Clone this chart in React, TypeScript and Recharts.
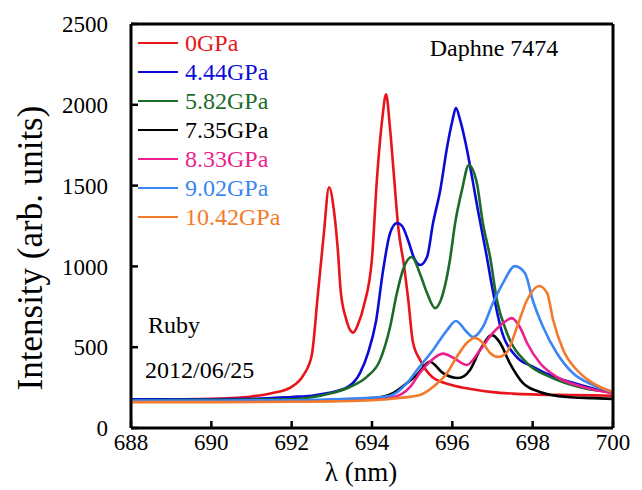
import React from 'react';
import { LineChart, Line, XAxis, YAxis } from 'recharts';

// wavelength (nm) / intensity pairs
const gpa0X = [688, 689, 690, 690.5, 691, 691.5, 692, 692.3, 692.5, 692.65, 692.8, 692.93, 693.05, 693.15, 693.22, 693.35, 693.53, 693.65, 693.8, 694.0, 694.12, 694.25, 694.35, 694.45, 694.55, 694.65, 694.8, 694.9, 695.02, 695.2, 695.5, 696, 696.5, 697, 697.5, 698, 699, 700];
const gpa0Y = [175, 177, 180, 185, 195, 215, 255, 330, 450, 820, 1200, 1490, 1350, 1100, 850, 680, 590, 640, 760, 1050, 1530, 1900, 2065, 1850, 1550, 1250, 1000, 800, 530, 420, 316, 265, 240, 222, 213, 208, 204, 200];

const gpa444X = [688, 690, 691, 692, 692.5, 692.9, 693.4, 693.7, 693.9, 694.1, 694.27, 694.45, 694.62, 694.75, 694.9, 695.05, 695.2, 695.37, 695.52, 695.7, 695.87, 696.0, 696.09, 696.2, 696.35, 696.5, 696.65, 696.85, 697.0, 697.2, 697.6, 698.0, 698.5, 699, 699.5, 700];
const gpa444Y = [178, 178, 180, 192, 200, 216, 254, 340, 464, 660, 965, 1206, 1268, 1250, 1160, 1050, 1009, 1058, 1268, 1473, 1739, 1900, 1980, 1900, 1740, 1540, 1330, 1070, 860, 625, 440, 380, 320, 280, 245, 216];

const gpa582X = [688, 690, 692, 692.5, 693.0, 693.45, 693.87, 694.2, 694.45, 694.62, 694.77, 694.99, 695.19, 695.37, 695.57, 695.77, 695.94, 696.07, 696.24, 696.41, 696.61, 696.76, 696.94, 697.11, 697.36, 697.86, 698.43, 699.25, 700];
const gpa582Y = [172, 174, 178, 190, 216, 254, 316, 420, 625, 835, 978, 1058, 958, 835, 742, 835, 1040, 1268, 1473, 1627, 1516, 1268, 1058, 792, 588, 402, 316, 248, 223];

const gpa735X = [688, 690, 692, 693, 694, 694.3, 694.52, 694.87, 695.12, 695.44, 695.77, 696.15, 696.44, 696.69, 696.99, 697.19, 697.43, 697.76, 698.18, 698.85, 699.5, 700];
const gpa735Y = [168, 168, 170, 172, 180, 195, 216, 278, 330, 410, 340, 309, 359, 483, 575, 526, 402, 278, 223, 192, 185, 180];

const gpa833X = [688, 690, 692, 693, 694, 694.52, 694.95, 695.19, 695.44, 695.77, 696.05, 696.36, 696.69, 697.01, 697.27, 697.48, 697.68, 697.86, 698.18, 698.6, 699.25, 700];
const gpa833Y = [165, 165, 167, 170, 178, 190, 254, 340, 410, 460, 430, 390, 483, 588, 650, 680, 625, 526, 402, 316, 254, 216];

const gpa902X = [688, 690, 692, 693, 694, 694.45, 694.87, 695.12, 695.52, 695.87, 696.09, 696.36, 696.51, 696.76, 697.01, 697.26, 697.56, 697.81, 698.0, 698.26, 698.6, 699.0, 699.5, 700];
const gpa902Y = [170, 170, 172, 178, 188, 200, 278, 359, 483, 606, 662, 594, 563, 625, 773, 897, 1002, 958, 792, 625, 464, 340, 266, 223];

const gpa1042X = [688, 690, 692, 693, 694, 694.7, 695.19, 695.52, 695.87, 696.11, 696.36, 696.56, 696.76, 696.94, 697.14, 697.36, 697.61, 697.86, 698.16, 698.36, 698.51, 698.76, 699.1, 699.5, 700];
const gpa1042Y = [160, 160, 162, 165, 172, 186, 204, 254, 340, 440, 526, 557, 526, 464, 440, 470, 625, 792, 879, 835, 668, 483, 359, 278, 223];

const xTicks = [688, 690, 692, 694, 696, 698, 700];
const yTicks = [0, 500, 1000, 1500, 2000, 2500];
const topTicks = [690, 692, 694, 696, 698];
const rightTicks = [500, 1000, 1500, 2000];

const zip = (xs: number[], ys: number[]) => xs.map((x, i) => ({ x, y: ys[i] }));

const series = [
  { name: '0GPa', color: '#e8141c', data: zip(gpa0X, gpa0Y) },
  { name: '4.44GPa', color: '#0b0bd8', data: zip(gpa444X, gpa444Y) },
  { name: '5.82GPa', color: '#1c6b2a', data: zip(gpa582X, gpa582Y) },
  { name: '7.35GPa', color: '#000000', data: zip(gpa735X, gpa735Y) },
  { name: '8.33GPa', color: '#ec1f8c', data: zip(gpa833X, gpa833Y) },
  { name: '9.02GPa', color: '#3a86f2', data: zip(gpa902X, gpa902Y) },
  { name: '10.42GPa', color: '#f37a2a', data: zip(gpa1042X, gpa1042Y) },
];

const FONT = 'Liberation Serif, Times New Roman, Times, serif';
const tickStyle = { fontFamily: FONT, fontSize: 23, fill: '#000' };
const axisLine = { stroke: '#000', strokeWidth: 3 };
const tickLine = { stroke: '#000', strokeWidth: 2.5 };

export default function App() {
  return (
    <div style={{ position: 'relative', width: 634, height: 482 }}>
      <LineChart width={626} height={474} margin={{ top: 15, right: 20, left: 63, bottom: 24 }}>
        <XAxis
          dataKey="x"
          type="number"
          domain={[688, 700]}
          ticks={xTicks}
          tick={tickStyle}
          tickSize={-7}
          tickMargin={13}
          axisLine={axisLine}
          tickLine={tickLine}
          height={30}
        />
        <XAxis
          xAxisId="top"
          orientation="top"
          type="number"
          domain={[688, 700]}
          ticks={topTicks}
          tick={false}
          tickSize={-7}
          axisLine={axisLine}
          tickLine={tickLine}
          height={1}
        />
        <YAxis
          type="number"
          domain={[0, 2500]}
          ticks={yTicks}
          tick={tickStyle}
          tickSize={-7}
          tickMargin={30}
          axisLine={axisLine}
          tickLine={tickLine}
          width={60}
        />
        <YAxis
          yAxisId="right"
          orientation="right"
          type="number"
          domain={[0, 2500]}
          ticks={rightTicks}
          tick={false}
          tickSize={-7}
          axisLine={axisLine}
          tickLine={tickLine}
          width={1}
        />
        {series.map((s) => (
          <Line
            key={s.name}
            data={s.data}
            dataKey="y"
            type="monotone"
            stroke={s.color}
            strokeWidth={2.6}
            dot={false}
            activeDot={false}
            isAnimationActive={false}
          />
        ))}
      </LineChart>

      <svg width={634} height={482} style={{ position: 'absolute', left: 0, top: 0, pointerEvents: 'none' }}>
        {series.map((s, i) => (
          <g key={s.name}>
            <line x1={130} x2={170} y1={35 + 29 * i} y2={35 + 29 * i} stroke={s.color} strokeWidth={2} />
            <text x={177} y={35 + 29 * i} dominantBaseline="central" fontFamily={FONT} fontSize={24} fill={s.color}>
              {s.name}
            </text>
          </g>
        ))}
        <text x={486} y={48} textAnchor="middle" fontFamily={FONT} fontSize={24} fill="#000">Daphne 7474</text>
        <text x={140} y={325} fontFamily={FONT} fontSize={24} fill="#000">Ruby</text>
        <text x={137} y={370} fontFamily={FONT} fontSize={24} fill="#000">2012/06/25</text>
        <text x={34} y={240} transform="rotate(-90, 34, 240)" textAnchor="middle" fontFamily={FONT} fontSize={35} fill="#000">
          Intensity (arb. units)
        </text>
        <text x={353} y={473} textAnchor="middle" fontFamily={FONT} fontSize={27} fill="#000">λ (nm)</text>
      </svg>
    </div>
  );
}
